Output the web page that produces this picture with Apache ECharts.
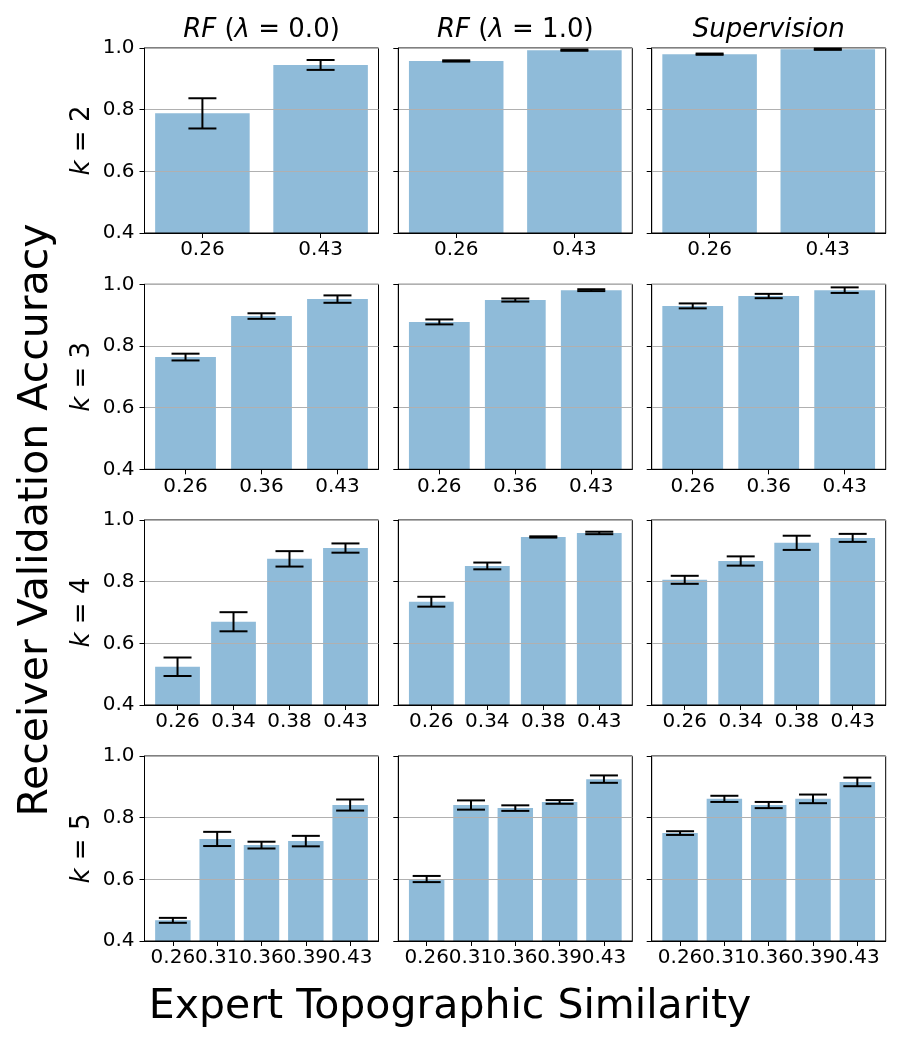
<!DOCTYPE html>
<html>
<head>
<meta charset="utf-8">
<title>Receiver Validation Accuracy</title>
<script src="https://cdn.jsdelivr.net/npm/echarts@6/dist/echarts.min.js"></script>
<style>
    html, body { margin: 0; padding: 0; background: #fff; }
    #main { width: 900px; height: 1040px; }
</style>
</head>
<body>
<div id="main"></div>
<script>
// x tick labels for each row (k = 2..5)
var labelsK2 = ['0.26', '0.43'];
var labelsK3 = ['0.26', '0.36', '0.43'];
var labelsK4 = ['0.26', '0.34', '0.38', '0.43'];
var labelsK5 = ['0.26', '0.31', '0.36', '0.39', '0.43'];

// RF (lambda = 0.0)
var rf0K2 = [0.788, 0.945];
var rf0K3 = [0.764, 0.897, 0.952];
var rf0K4 = [0.524, 0.670, 0.874, 0.909];
var rf0K5 = [0.467, 0.731, 0.711, 0.724, 0.841];
var rf0ErrK2 = [0.049, 0.016];
var rf0ErrK3 = [0.011, 0.009, 0.012];
var rf0ErrK4 = [0.030, 0.031, 0.025, 0.015];
var rf0ErrK5 = [0.008, 0.023, 0.011, 0.017, 0.018];

// RF (lambda = 1.0)
var rf1K2 = [0.958, 0.993];
var rf1K3 = [0.878, 0.949, 0.981];
var rf1K4 = [0.735, 0.851, 0.945, 0.958];
var rf1K5 = [0.601, 0.841, 0.831, 0.851, 0.925];
var rf1ErrK2 = [0.002, 0.002];
var rf1ErrK3 = [0.008, 0.005, 0.003];
var rf1ErrK4 = [0.016, 0.011, 0.002, 0.004];
var rf1ErrK5 = [0.010, 0.015, 0.009, 0.006, 0.012];

// Supervision
var supK2 = [0.980, 0.996];
var supK3 = [0.930, 0.962, 0.981];
var supK4 = [0.806, 0.867, 0.926, 0.942];
var supK5 = [0.750, 0.861, 0.841, 0.861, 0.916];
var supErrK2 = [0.002, 0.002];
var supErrK3 = [0.008, 0.007, 0.009];
var supErrK4 = [0.013, 0.015, 0.023, 0.013];
var supErrK5 = [0.006, 0.010, 0.010, 0.014, 0.014];

var yTicks = [0.4, 0.6, 0.8, 1.0];

var rowNames = ['2', '3', '4', '5'];
var rowLabels = [labelsK2, labelsK3, labelsK4, labelsK5];
var means = [
    [rf0K2, rf1K2, supK2],
    [rf0K3, rf1K3, supK3],
    [rf0K4, rf1K4, supK4],
    [rf0K5, rf1K5, supK5]
];
var errs = [
    [rf0ErrK2, rf1ErrK2, supErrK2],
    [rf0ErrK3, rf1ErrK3, supErrK3],
    [rf0ErrK4, rf1ErrK4, supErrK4],
    [rf0ErrK5, rf1ErrK5, supErrK5]
];

var FONT = 'DejaVu Sans';
var colLeft = [144.5, 398.3, 651.7];
var rowTop = [48, 284.3, 520, 756];
var cellW = 234;
var cellH = 185;

function renderBar(params, api) {
    var i = api.value(0);
    var v = api.value(1);
    var p0 = api.coord([i - 0.4, v]);
    var p1 = api.coord([i + 0.4, yTicks[0]]);
    return {
        type: 'rect',
        shape: { x: p0[0], y: p0[1], width: p1[0] - p0[0], height: p1[1] - p0[1] },
        style: { fill: '#8fbbd9' }
    };
}

function renderErr(params, api) {
    var i = api.value(0);
    var a = api.coord([i, api.value(2)]);
    var b = api.coord([i, api.value(1)]);
    var cap = 14;
    var st = { stroke: '#000', lineWidth: 2 };
    return {
        type: 'group',
        children: [
            { type: 'line', shape: { x1: a[0], y1: a[1], x2: b[0], y2: b[1] }, style: st },
            { type: 'line', shape: { x1: a[0] - cap, y1: a[1], x2: a[0] + cap, y2: a[1] }, style: st },
            { type: 'line', shape: { x1: b[0] - cap, y1: b[1], x2: b[0] + cap, y2: b[1] }, style: st }
        ]
    };
}

function makeFormatter(lb) {
    return function (v) { return lb[Math.round(v)]; };
}

var grids = [], xAxes = [], yAxes = [], series = [];

for (var r = 0; r < 4; r++) {
    for (var c = 0; c < 3; c++) {
        var idx = r * 3 + c;
        var labels = rowLabels[r];
        var n = labels.length;
        var pad = 0.05 * (n - 0.2);
        var ticks = [], evens = [], odds = [];
        for (var t = 0; t < n; t++) {
            ticks.push(t);
            if (t % 2 === 0) evens.push(t); else odds.push(t);
        }

        grids.push({
            left: colLeft[c], top: rowTop[r], width: cellW, height: cellH,
            show: true, borderColor: '#000', borderWidth: 1, backgroundColor: 'transparent'
        });

        // main x axis: ticks + even labels (labels would hide each other on one axis)
        xAxes.push({
            type: 'value', gridIndex: idx, position: 'bottom',
            min: -0.4 - pad, max: n - 0.6 + pad,
            splitLine: { show: false },
            axisLine: { show: true, onZero: false, lineStyle: { color: '#000', width: 1 } },
            axisTick: { show: true, length: 5, customValues: ticks, lineStyle: { color: '#000', width: 1 } },
            axisLabel: {
                show: true, customValues: evens, margin: 7,
                color: '#000', fontFamily: FONT, fontSize: 20,
                formatter: makeFormatter(labels)
            }
        });
        // second x axis at the same place, odd labels only
        xAxes.push({
            type: 'value', gridIndex: idx, position: 'bottom', offset: 0,
            min: -0.4 - pad, max: n - 0.6 + pad,
            splitLine: { show: false },
            axisLine: { show: false, onZero: false },
            axisTick: { show: false },
            axisLabel: {
                show: odds.length > 0, customValues: odds, margin: 7,
                color: '#000', fontFamily: FONT, fontSize: 20,
                formatter: makeFormatter(labels)
            }
        });

        yAxes.push({
            type: 'value', gridIndex: idx,
            min: 0.4, max: 1.0, interval: 0.2,
            splitLine: { show: true, lineStyle: { color: '#b0b0b0', width: 1 } },
            axisLine: { show: true, onZero: false, lineStyle: { color: '#000', width: 1 } },
            axisTick: { show: true, length: 5, lineStyle: { color: '#000', width: 1 } },
            axisLabel: {
                show: c === 0, margin: 10,
                color: '#000', fontFamily: FONT, fontSize: 20,
                formatter: function (v) { return v.toFixed(1); }
            }
        });

        var m = means[r][c];
        var e = errs[r][c];
        var barData = [], errData = [];
        for (var j = 0; j < n; j++) {
            barData.push([j, m[j]]);
            errData.push([j, m[j] - e[j], m[j] + e[j]]);
        }

        series.push({
            type: 'custom', xAxisIndex: idx * 2, yAxisIndex: idx, z: -1,
            renderItem: renderBar, data: barData, silent: true
        });
        series.push({
            type: 'custom', xAxisIndex: idx * 2, yAxisIndex: idx, z: 5,
            renderItem: renderErr, data: errData, silent: true
        });
    }
}

var titleRich = {
    n: { fontFamily: FONT, fontSize: 26, fill: '#000' },
    i: { fontFamily: FONT, fontSize: 26, fontStyle: 'italic', fill: '#000' }
};

var graphics = [];
var colTitles = ['{i|RF} {n|(}{i|λ}{n| = 0.0)}', '{i|RF} {n|(}{i|λ}{n| = 1.0)}', '{i|Supervision}'];
for (var c2 = 0; c2 < 3; c2++) {
    graphics.push({
        type: 'text', x: colLeft[c2] + cellW / 2, y: 30,
        style: {
            text: colTitles[c2], rich: titleRich,
            font: '26px ' + FONT, fill: '#000',
            align: 'center', verticalAlign: 'middle',
            textAlign: 'center', textVerticalAlign: 'middle'
        }
    });
}
for (var r2 = 0; r2 < 4; r2++) {
    graphics.push({
        type: 'text', x: 82, y: rowTop[r2] + cellH / 2, rotation: Math.PI / 2,
        style: {
            text: '{i|k}{n| = ' + rowNames[r2] + '}', rich: titleRich,
            font: '26px ' + FONT, fill: '#000',
            align: 'center', verticalAlign: 'middle',
            textAlign: 'center', textVerticalAlign: 'middle'
        }
    });
}
graphics.push({
    type: 'text', x: 450, y: 1007,
    style: {
        text: 'Expert Topographic Similarity', font: '41px ' + FONT, fill: '#000',
        align: 'center', verticalAlign: 'middle',
        textAlign: 'center', textVerticalAlign: 'middle'
    }
});
graphics.push({
    type: 'text', x: 36, y: 520, rotation: Math.PI / 2,
    style: {
        text: 'Receiver Validation Accuracy', font: '41px ' + FONT, fill: '#000',
        align: 'center', verticalAlign: 'middle',
        textAlign: 'center', textVerticalAlign: 'middle'
    }
});

var myChart = echarts.init(document.getElementById('main'));
var option = {
    backgroundColor: '#fff',
    animation: false,
    grid: grids,
    xAxis: xAxes,
    yAxis: yAxes,
    series: series,
    graphic: graphics
};
myChart.setOption(option);
</script>
</body>
</html>
